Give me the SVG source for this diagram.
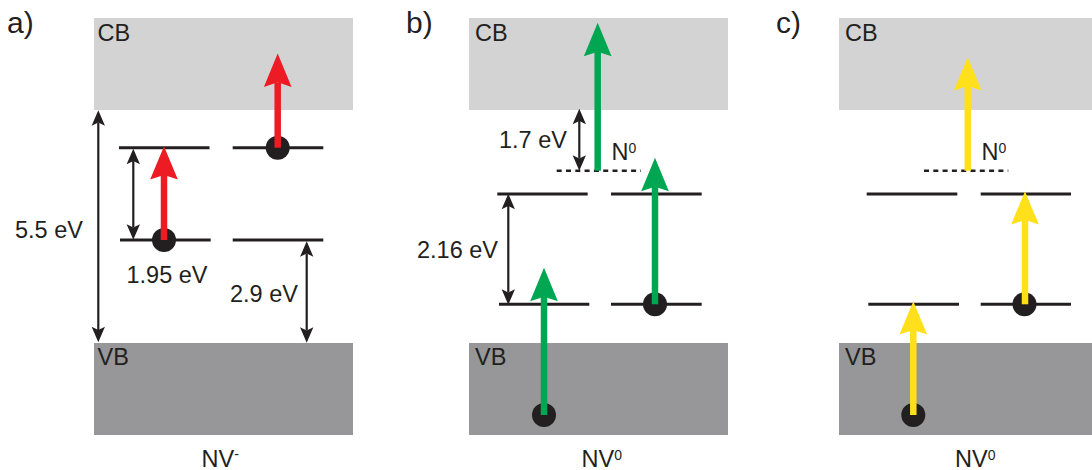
<svg xmlns="http://www.w3.org/2000/svg" width="1092" height="470" viewBox="0 0 1092 470">
<style>
text{font-family:"Liberation Sans",Arial,sans-serif;fill:#231f20;font-size:23.5px}
.panel{font-size:30px}
.sup{font-size:14px}
.cb{fill:#d3d3d3}
.vb{fill:#97979a}
.lvl{stroke:#231f20;stroke-width:3;fill:none}
.dash{stroke:#231f20;stroke-width:2.6;stroke-dasharray:5 4.3;fill:none}
.dot{fill:#231f20}
.gap{stroke:#231f20;stroke-width:2.2;fill:none;marker-start:url(#mk);marker-end:url(#mk)}
.red{stroke:#ed1c24;stroke-width:6.5;fill:none;marker-end:url(#mr)}
.green{stroke:#00a651;stroke-width:6.5;fill:none;marker-end:url(#mg)}
.yellow{stroke:#ffe01a;stroke-width:6.5;fill:none;marker-end:url(#my)}
</style>
<defs>
<marker id="mk" markerUnits="userSpaceOnUse" orient="auto-start-reverse" refX="0" refY="0" markerWidth="20" markerHeight="20" viewBox="-5 -8 18 16" overflow="visible"><path d="M-3,-6 L11,0 L-3,6 L0,0 Z" fill="#231f20"/></marker>
<marker id="mr" markerUnits="userSpaceOnUse" orient="auto" refX="0" refY="0" markerWidth="40" markerHeight="30" viewBox="-5 -13 32 26" overflow="visible"><path d="M-4,-12 L25,0 L-4,12 L0,0 Z" fill="#ed1c24"/></marker>
<marker id="mg" markerUnits="userSpaceOnUse" orient="auto" refX="0" refY="0" markerWidth="40" markerHeight="30" viewBox="-5 -13 32 26" overflow="visible"><path d="M-4,-12 L25,0 L-4,12 L0,0 Z" fill="#00a651"/></marker>
<marker id="my" markerUnits="userSpaceOnUse" orient="auto" refX="0" refY="0" markerWidth="40" markerHeight="30" viewBox="-5 -13 32 26" overflow="visible"><path d="M-4,-12 L25,0 L-4,12 L0,0 Z" fill="#ffe01a"/></marker>
</defs>

<g id="panel-a">
  <text class="panel" x="7" y="33">a)</text>
  <g id="a-cb"><rect class="cb" x="94" y="18" width="259" height="92"/><text x="97.5" y="41">CB</text></g>
  <g id="a-vb"><rect class="vb" x="94" y="343" width="259" height="92"/><text x="97.5" y="365">VB</text></g>
  <g id="a-levels">
    <line class="lvl" x1="119" y1="147.7" x2="209.5" y2="147.7"/>
    <line class="lvl" x1="120" y1="240" x2="210.7" y2="240"/>
    <line class="lvl" x1="232.7" y1="147.7" x2="323.3" y2="147.7"/>
    <line class="lvl" x1="232.7" y1="240" x2="323.3" y2="240"/>
  </g>
  <g id="a-dots">
    <circle class="dot" cx="164" cy="240" r="12"/>
    <circle class="dot" cx="277.7" cy="147.7" r="12"/>
  </g>
  <text x="15" y="237.5">5.5 eV</text>
  <text x="126.5" y="283">1.95 eV</text>
  <text x="230" y="301.7">2.9 eV</text>
  <text x="201.5" y="467">NV<tspan class="sup" dy="-8">-</tspan></text>
</g>

<g id="panel-b">
  <text class="panel" x="406" y="33">b)</text>
  <g id="b-cb"><rect class="cb" x="469" y="18" width="259" height="92"/><text x="475" y="41">CB</text></g>
  <g id="b-vb"><rect class="vb" x="469" y="343" width="259" height="92"/><text x="475" y="365">VB</text></g>
  <g id="b-levels">
    <line class="dash" x1="556.7" y1="170.7" x2="641" y2="170.7"/>
    <line class="lvl" x1="497.3" y1="194" x2="587.7" y2="194"/>
    <line class="lvl" x1="611" y1="194" x2="701.7" y2="194"/>
    <line class="lvl" x1="499" y1="304.3" x2="589.3" y2="304.3"/>
    <line class="lvl" x1="611" y1="304.3" x2="701.7" y2="304.3"/>
  </g>
  <g id="b-dots">
    <circle class="dot" cx="544" cy="415" r="12"/>
    <circle class="dot" cx="655" cy="304.3" r="12"/>
  </g>
  <text x="499" y="147.7">1.7 eV</text>
  <text x="611.5" y="160">N<tspan class="sup" dy="-7.5">0</tspan></text>
  <text x="417" y="258.3">2.16 eV</text>
  <text x="581.5" y="467">NV<tspan class="sup" dy="-7">0</tspan></text>
</g>

<g id="panel-c">
  <text class="panel" x="776" y="33">c)</text>
  <g id="c-cb"><rect class="cb" x="839" y="18" width="259" height="92"/><text x="845" y="41">CB</text></g>
  <g id="c-vb"><rect class="vb" x="839" y="343" width="259" height="92"/><text x="845" y="365">VB</text></g>
  <g id="c-levels">
    <line class="dash" x1="924" y1="170.7" x2="1008.3" y2="170.7"/>
    <line class="lvl" x1="866.7" y1="194" x2="957.3" y2="194"/>
    <line class="lvl" x1="980.7" y1="194" x2="1071" y2="194"/>
    <line class="lvl" x1="868.3" y1="304.3" x2="959" y2="304.3"/>
    <line class="lvl" x1="980.7" y1="304.3" x2="1071" y2="304.3"/>
  </g>
  <g id="c-dots">
    <circle class="dot" cx="913.3" cy="415" r="12"/>
    <circle class="dot" cx="1024.5" cy="304.3" r="12"/>
  </g>
  <text x="981.5" y="160">N<tspan class="sup" dy="-7.5">0</tspan></text>
  <text x="955" y="467">NV<tspan class="sup" dy="-7">0</tspan></text>
</g>

<g id="connectors">
  <line class="gap" x1="98.3" y1="122.5" x2="98.3" y2="330"/>
  <line class="gap" x1="133.3" y1="161" x2="133.3" y2="227.5"/>
  <line class="gap" x1="306.7" y1="253.5" x2="306.7" y2="330.5"/>
  <line class="gap" x1="579.3" y1="121" x2="579.3" y2="158.5"/>
  <line class="gap" x1="508.3" y1="206" x2="508.3" y2="292.5"/>
  <line class="red" x1="164" y1="240" x2="164" y2="175"/>
  <line class="red" x1="277.7" y1="147.7" x2="277.7" y2="82.3"/>
  <line class="green" x1="597.7" y1="170.7" x2="597.7" y2="51.7"/>
  <line class="green" x1="655" y1="304.3" x2="655" y2="186.7"/>
  <line class="green" x1="544" y1="415" x2="544" y2="296.7"/>
  <line class="yellow" x1="967.7" y1="170.7" x2="967.7" y2="86"/>
  <line class="yellow" x1="1025" y1="304.3" x2="1025" y2="220"/>
  <line class="yellow" x1="913.3" y1="415" x2="913.3" y2="330"/>
</g>
</svg>
